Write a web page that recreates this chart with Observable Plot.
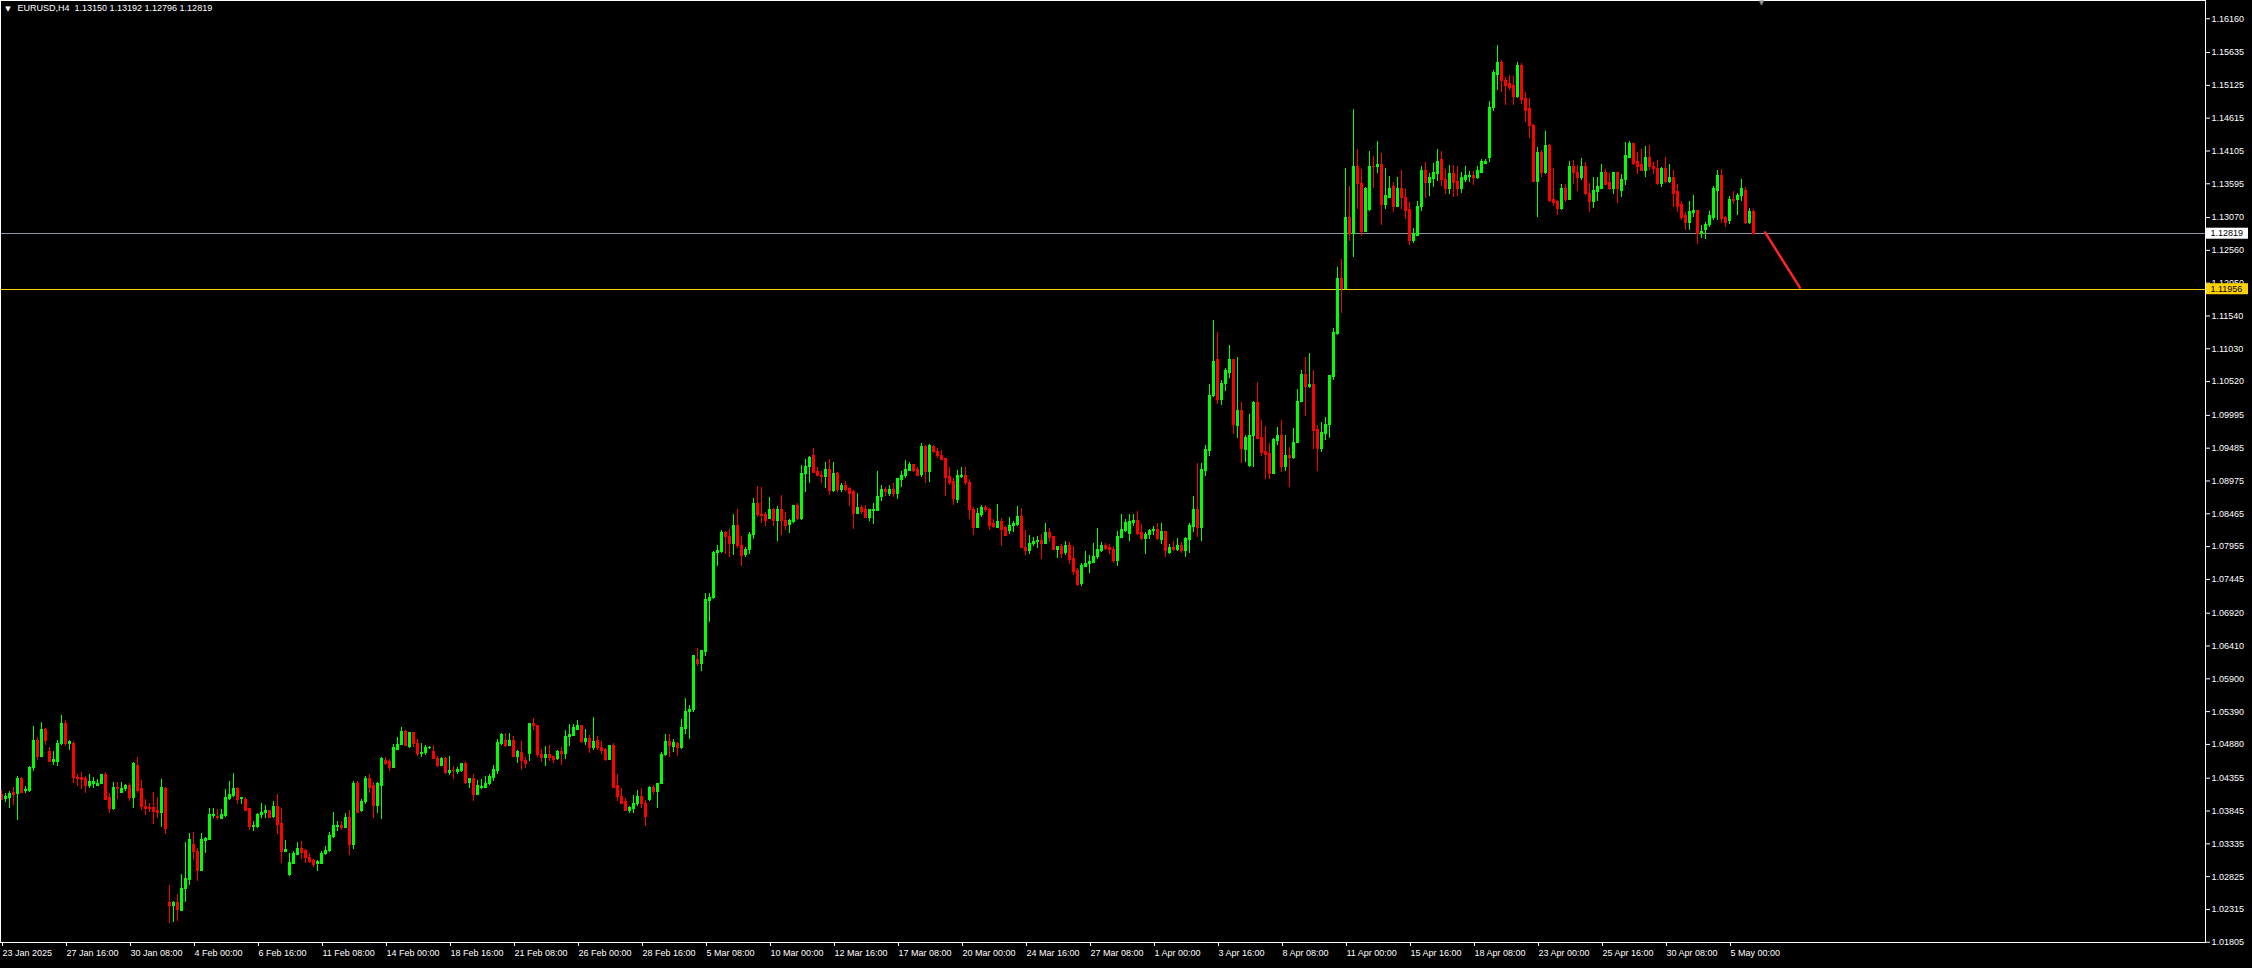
<!DOCTYPE html>
<html><head><meta charset="utf-8">
<script src="https://cdn.jsdelivr.net/npm/d3@7"></script>
<script src="https://cdn.jsdelivr.net/npm/@observablehq/plot@0.6"></script>
<style>
html,body{margin:0;padding:0;background:#000;overflow:hidden}
#chart svg{display:block}
</style></head><body><div id="chart"></div>
<script>
const symbol = "EURUSD";
const timeframe = "H4";

const opens = [
1.0410,1.0403,1.0405,1.0412,1.0411,1.0435,1.0415,1.0415,1.0451,1.0494,
1.0468,1.0511,1.0477,1.0461,1.0461,1.0488,1.0520,1.0488,1.0489,1.0436,
1.0436,1.0435,1.0424,1.0427,1.0423,1.0427,1.0441,1.0404,1.0387,1.0421,
1.0412,1.0418,1.0423,1.0405,1.0455,1.0418,1.0391,1.0389,1.0389,1.0384,
1.0381,1.0419,1.0241,1.0237,1.0241,1.0229,1.0263,1.0278,1.0331,1.0321,
1.0292,1.0338,1.0339,1.0376,1.0375,1.0372,1.0376,1.0403,1.0408,1.0419,
1.0403,1.0402,1.0387,1.0359,1.0359,1.0378,1.0382,1.0384,1.0375,1.0391,
1.0364,1.0321,1.0285,1.0302,1.0316,1.0326,1.0322,1.0312,1.0307,1.0302,
1.0302,1.0317,1.0322,1.0344,1.0359,1.0361,1.0358,1.0374,1.0331,1.0426,
1.0384,1.0398,1.0435,1.0423,1.0392,1.0424,1.0463,1.0460,1.0451,1.0480,
1.0487,1.0508,1.0484,1.0505,1.0489,1.0473,1.0474,1.0482,1.0476,1.0466,
1.0454,1.0465,1.0443,1.0447,1.0445,1.0446,1.0457,1.0428,1.0435,1.0409,
1.0420,1.0420,1.0426,1.0436,1.0447,1.0489,1.0494,1.0485,1.0493,1.0468,
1.0475,1.0463,1.0473,1.0520,1.0517,1.0472,1.0467,1.0472,1.0468,1.0465,
1.0477,1.0473,1.0500,1.0501,1.0510,1.0516,1.0492,1.0497,1.0483,1.0493,
1.0482,1.0479,1.0464,1.0485,1.0423,1.0407,1.0398,1.0384,1.0388,1.0395,
1.0407,1.0396,1.0401,1.0420,1.0414,1.0426,1.0471,1.0491,1.0484,1.0489,
1.0482,1.0512,1.0538,1.0541,1.0620,1.0613,1.0632,1.0711,1.0715,1.0785,
1.0787,1.0816,1.0811,1.0799,1.0827,1.0797,1.0782,1.0790,1.0813,1.0861,
1.0845,1.0844,1.0839,1.0853,1.0835,1.0852,1.0836,1.0829,1.0834,1.0858,
1.0838,1.0908,1.0919,1.0936,1.0912,1.0906,1.0903,1.0914,1.0882,1.0908,
1.0884,1.0889,1.0885,1.0880,1.0846,1.0855,1.0852,1.0840,1.0851,1.0851,
1.0872,1.0883,1.0877,1.0883,1.0877,1.0899,1.0905,1.0913,1.0922,1.0914,
1.0907,1.0950,1.0911,1.0951,1.0943,1.0937,1.0931,1.0903,1.0896,1.0868,
1.0903,1.0906,1.0895,1.0853,1.0824,1.0845,1.0855,1.0853,1.0830,1.0825,
1.0833,1.0824,1.0820,1.0827,1.0829,1.0841,1.0794,1.0788,1.0800,1.0802,
1.0804,1.0799,1.0817,1.0810,1.0790,1.0795,1.0785,1.0796,1.0776,1.0757,
1.0737,1.0764,1.0768,1.0770,1.0779,1.0788,1.0796,1.0794,1.0791,1.0773,
1.0809,1.0819,1.0815,1.0832,1.0835,1.0816,1.0807,1.0813,1.0819,1.0821,
1.0805,1.0818,1.0786,1.0794,1.0791,1.0796,1.0788,1.0806,1.0826,1.0852,
1.0825,1.0913,1.0944,1.1029,1.1085,1.1023,1.1049,1.1066,1.1085,1.0983,
1.1006,1.0945,1.0921,1.0967,1.1018,1.0964,1.0942,1.0939,1.0909,1.0960,
1.0968,1.0919,1.0936,1.0933,1.0956,1.1020,1.1063,1.1043,1.1047,1.0977,
1.0947,1.0970,1.0984,1.1059,1.1126,1.1211,1.1196,1.1306,1.1282,1.1386,
1.1359,1.1284,1.1318,1.1386,1.1385,1.1388,1.1326,1.1338,1.1355,1.1323,
1.1352,1.1338,1.1318,1.1271,1.1279,1.1323,1.1380,1.1360,1.1367,1.1374,
1.1396,1.1366,1.1351,1.1374,1.1362,1.1351,1.1366,1.1370,1.1371,1.1368,
1.1377,1.1391,1.1400,1.1477,1.1529,1.1548,1.1520,1.1514,1.1512,1.1494,
1.1543,1.1491,1.1475,1.1450,1.1362,1.1408,1.1376,1.1419,1.1334,1.1331,
1.1320,1.1351,1.1335,1.1385,1.1377,1.1368,1.1385,1.1344,1.1331,1.1346,
1.1352,1.1377,1.1361,1.1351,1.1376,1.1349,1.1365,1.1400,1.1421,1.1393,
1.1388,1.1380,1.1400,1.1386,1.1383,1.1359,1.1383,1.1362,1.1369,1.1346,
1.1327,1.1309,1.1299,1.1314,1.1317,1.1282,1.1287,1.1295,1.1307,1.1349,
1.1372,1.1306,1.1301,1.1335,1.1334,1.1340,1.1348,1.1299,1.13150];

const highs = [
1.0416,1.0412,1.0415,1.0421,1.0438,1.0437,1.0423,1.0454,1.0516,1.0498,
1.0522,1.0512,1.0483,1.0477,1.0494,1.0533,1.0525,1.0494,1.0493,1.0441,
1.0444,1.0438,1.0441,1.0437,1.0433,1.0442,1.0444,1.0412,1.0429,1.0429,
1.0429,1.0426,1.0428,1.0460,1.0467,1.0432,1.0402,1.0396,1.0413,1.0405,
1.0434,1.0421,1.0269,1.0244,1.0255,1.0286,1.0336,1.0350,1.0351,1.0326,
1.0350,1.0343,1.0388,1.0388,1.0387,1.0387,1.0418,1.0431,1.0443,1.0421,
1.0406,1.0406,1.0388,1.0368,1.0381,1.0396,1.0393,1.0385,1.0399,1.0410,
1.0388,1.0339,1.0319,1.0322,1.0336,1.0337,1.0325,1.0318,1.0309,1.0307,
1.0322,1.0330,1.0351,1.0382,1.0368,1.0368,1.0381,1.0385,1.0430,1.0430,
1.0402,1.0438,1.0442,1.0429,1.0429,1.0467,1.0467,1.0465,1.0488,1.0499,
1.0514,1.0509,1.0507,1.0507,1.0495,1.0489,1.0486,1.0485,1.0486,1.0470,
1.0468,1.0467,1.0469,1.0454,1.0452,1.0459,1.0461,1.0435,1.0441,1.0432,
1.0434,1.0438,1.0441,1.0455,1.0496,1.0505,1.0505,1.0505,1.0500,1.0479,
1.0493,1.0468,1.0521,1.0528,1.0518,1.0480,1.0485,1.0486,1.0470,1.0479,
1.0483,1.0509,1.0519,1.0519,1.0525,1.0518,1.0511,1.0502,1.0530,1.0500,
1.0492,1.0481,1.0486,1.0489,1.0441,1.0419,1.0404,1.0392,1.0409,1.0416,
1.0419,1.0401,1.0423,1.0424,1.0428,1.0476,1.0504,1.0504,1.0496,1.0491,
1.0527,1.0559,1.0548,1.0627,1.0637,1.0633,1.0723,1.0723,1.0788,1.0797,
1.0820,1.0819,1.0822,1.0845,1.0853,1.0811,1.0794,1.0817,1.0871,1.0889,
1.0887,1.0848,1.0872,1.0855,1.0858,1.0875,1.0848,1.0838,1.0859,1.0863,
1.0922,1.0931,1.0936,1.0948,1.0919,1.0913,1.0926,1.0931,1.0927,1.0911,
1.0894,1.0897,1.0887,1.0883,1.0878,1.0859,1.0859,1.0853,1.0863,1.0912,
1.0891,1.0888,1.0891,1.0894,1.0901,1.0912,1.0929,1.0927,1.0923,1.0918,
1.0956,1.0953,1.0954,1.0952,1.0948,1.0945,1.0932,1.0919,1.0902,1.0914,
1.0918,1.0918,1.0900,1.0857,1.0854,1.0860,1.0859,1.0854,1.0837,1.0861,
1.0839,1.0827,1.0841,1.0834,1.0858,1.0855,1.0821,1.0813,1.0809,1.0811,
1.0814,1.0831,1.0823,1.0811,1.0796,1.0798,1.0803,1.0802,1.0796,1.0762,
1.0770,1.0788,1.0782,1.0800,1.0823,1.0802,1.0801,1.0798,1.0795,1.0819,
1.0846,1.0838,1.0846,1.0845,1.0850,1.0830,1.0818,1.0822,1.0827,1.0831,
1.0831,1.0819,1.0798,1.0803,1.0808,1.0802,1.0809,1.0831,1.0874,1.0925,
1.0924,1.0952,1.1048,1.1147,1.1128,1.1054,1.1073,1.1108,1.1086,1.1090,
1.1020,1.0968,1.1001,1.1021,1.1051,1.0992,1.0982,1.0955,1.0963,1.0981,
1.0992,1.0968,1.0949,1.0979,1.1040,1.1070,1.1090,1.1096,1.1069,1.0983,
1.0989,1.0996,1.1061,1.1135,1.1229,1.1242,1.1384,1.1355,1.1475,1.1413,
1.1382,1.1354,1.1410,1.1402,1.1425,1.1407,1.1383,1.1371,1.1362,1.1369,
1.1380,1.1351,1.1331,1.1290,1.1332,1.1386,1.1393,1.1376,1.1391,1.1413,
1.1410,1.1382,1.1388,1.1388,1.1386,1.1377,1.1386,1.1379,1.1379,1.1386,
1.1397,1.1397,1.1487,1.1536,1.1574,1.1551,1.1525,1.1528,1.1526,1.1548,
1.1546,1.1501,1.1492,1.1451,1.1416,1.1411,1.1441,1.1421,1.1383,1.1334,
1.1359,1.1359,1.1394,1.1396,1.1388,1.1399,1.1393,1.1360,1.1369,1.1369,
1.1390,1.1382,1.1376,1.1377,1.1377,1.1374,1.1424,1.1425,1.1422,1.1408,
1.1413,1.1417,1.1419,1.1393,1.1396,1.1385,1.1400,1.1390,1.1380,1.1358,
1.1332,1.1315,1.1332,1.1341,1.1318,1.1295,1.1299,1.1317,1.1355,1.1380,
1.1382,1.1309,1.1340,1.1348,1.1344,1.1366,1.1354,1.1321,1.13192];

const lows = [
1.0401,1.0397,1.0389,1.0393,1.0370,1.0412,1.0411,1.0414,1.0446,1.0463,
1.0467,1.0487,1.0460,1.0456,1.0453,1.0487,1.0484,1.0479,1.0427,1.0423,
1.0418,1.0412,1.0420,1.0419,1.0422,1.0426,1.0401,1.0381,1.0386,1.0402,
1.0411,1.0415,1.0399,1.0388,1.0412,1.0386,1.0377,1.0382,1.0364,1.0373,
1.0359,1.0348,1.0209,1.0211,1.0212,1.0228,1.0243,1.0269,1.0308,1.0275,
1.0290,1.0318,1.0338,1.0373,1.0369,1.0371,1.0374,1.0401,1.0406,1.0395,
1.0394,1.0384,1.0354,1.0352,1.0358,1.0373,1.0373,1.0373,1.0373,1.0348,
1.0303,1.0320,1.0282,1.0301,1.0315,1.0309,1.0303,1.0303,1.0296,1.0290,
1.0301,1.0315,1.0320,1.0342,1.0353,1.0354,1.0357,1.0315,1.0325,1.0380,
1.0382,1.0395,1.0411,1.0373,1.0381,1.0372,1.0456,1.0446,1.0450,1.0479,
1.0486,1.0485,1.0482,1.0483,1.0470,1.0467,1.0471,1.0480,1.0464,1.0452,
1.0453,1.0442,1.0439,1.0434,1.0441,1.0444,1.0426,1.0419,1.0400,1.0408,
1.0418,1.0419,1.0424,1.0431,1.0442,1.0486,1.0483,1.0484,1.0467,1.0459,
1.0448,1.0450,1.0461,1.0509,1.0468,1.0460,1.0453,1.0461,1.0459,1.0463,
1.0456,1.0465,1.0484,1.0500,1.0509,1.0490,1.0486,1.0474,1.0479,1.0478,
1.0472,1.0462,1.0463,1.0419,1.0399,1.0395,1.0383,1.0380,1.0381,1.0392,
1.0389,1.0360,1.0399,1.0409,1.0388,1.0425,1.0470,1.0467,1.0476,1.0470,
1.0480,1.0503,1.0496,1.0537,1.0609,1.0602,1.0624,1.0677,1.0713,1.0764,
1.0785,1.0784,1.0779,1.0782,1.0792,1.0765,1.0779,1.0784,1.0807,1.0841,
1.0832,1.0826,1.0837,1.0827,1.0804,1.0812,1.0820,1.0816,1.0832,1.0836,
1.0836,1.0880,1.0894,1.0909,1.0905,1.0894,1.0886,1.0875,1.0880,1.0879,
1.0880,1.0881,1.0858,1.0822,1.0845,1.0845,1.0839,1.0834,1.0830,1.0850,
1.0865,1.0873,1.0873,1.0872,1.0868,1.0887,1.0902,1.0912,1.0911,1.0905,
1.0903,1.0893,1.0895,1.0941,1.0932,1.0929,1.0873,1.0891,1.0860,1.0863,
1.0902,1.0890,1.0838,1.0813,1.0823,1.0841,1.0848,1.0820,1.0823,1.0824,
1.0796,1.0811,1.0814,1.0817,1.0827,1.0792,1.0781,1.0784,1.0796,1.0793,
1.0776,1.0798,1.0802,1.0789,1.0777,1.0777,1.0781,1.0767,1.0751,1.0734,
1.0733,1.0763,1.0753,1.0769,1.0776,1.0786,1.0790,1.0783,1.0769,1.0764,
1.0808,1.0818,1.0804,1.0827,1.0812,1.0805,1.0784,1.0807,1.0813,1.0805,
1.0798,1.0778,1.0783,1.0788,1.0788,1.0785,1.0779,1.0785,1.0818,1.0809,
1.0804,1.0905,1.0935,1.1028,1.1017,1.1015,1.1036,1.1057,1.0970,1.0964,
1.0924,1.0926,1.0918,1.0919,1.0962,1.0936,1.0900,1.0900,1.0908,1.0953,
1.0911,1.0913,1.0888,1.0931,1.0955,1.1019,1.0997,1.1041,1.0946,1.0913,
1.0942,1.0961,1.0963,1.1054,1.1123,1.1158,1.1193,1.1270,1.1245,1.1320,
1.1277,1.1283,1.1317,1.1352,1.1375,1.1295,1.1320,1.1337,1.1315,1.1322,
1.1320,1.1304,1.1264,1.1266,1.1278,1.1316,1.1337,1.1340,1.1354,1.1363,
1.1355,1.1343,1.1343,1.1338,1.1340,1.1344,1.1362,1.1362,1.1357,1.1366,
1.1376,1.1390,1.1393,1.1472,1.1505,1.1501,1.1481,1.1505,1.1481,1.1492,
1.1483,1.1455,1.1430,1.1361,1.1307,1.1369,1.1374,1.1331,1.1324,1.1310,
1.1318,1.1330,1.1334,1.1359,1.1348,1.1365,1.1341,1.1315,1.1321,1.1332,
1.1351,1.1357,1.1349,1.1343,1.1329,1.1338,1.1357,1.1399,1.1388,1.1374,
1.1379,1.1369,1.1380,1.1374,1.1357,1.1354,1.1360,1.1360,1.1323,1.1315,
1.1303,1.1287,1.1287,1.1307,1.1265,1.1274,1.1273,1.1292,1.1303,1.1303,
1.1298,1.1292,1.1296,1.1327,1.1310,1.1332,1.1296,1.1296,1.12796];

const closes = [
1.0402,1.0406,1.0411,1.0409,1.0435,1.0413,1.0417,1.0452,1.0494,1.0468,
1.0511,1.0494,1.0461,1.0464,1.0489,1.0520,1.0488,1.0492,1.0436,1.0435,
1.0433,1.0424,1.0429,1.0430,1.0427,1.0441,1.0402,1.0387,1.0421,1.0418,
1.0419,1.0423,1.0405,1.0457,1.0415,1.0390,1.0387,1.0388,1.0383,1.0381,
1.0421,1.0356,1.0237,1.0241,1.0230,1.0264,1.0279,1.0340,1.0321,1.0292,
1.0339,1.0341,1.0378,1.0379,1.0374,1.0378,1.0404,1.0409,1.0419,1.0401,
1.0404,1.0385,1.0359,1.0361,1.0379,1.0382,1.0384,1.0374,1.0391,1.0362,
1.0321,1.0324,1.0303,1.0317,1.0325,1.0320,1.0312,1.0305,1.0300,1.0305,
1.0318,1.0323,1.0345,1.0361,1.0361,1.0358,1.0374,1.0331,1.0426,1.0381,
1.0399,1.0435,1.0421,1.0392,1.0426,1.0466,1.0458,1.0452,1.0482,1.0487,
1.0508,1.0486,1.0505,1.0489,1.0473,1.0475,1.0483,1.0483,1.0465,1.0454,
1.0465,1.0443,1.0446,1.0446,1.0448,1.0457,1.0428,1.0434,1.0409,1.0423,
1.0422,1.0427,1.0437,1.0448,1.0490,1.0502,1.0485,1.0493,1.0468,1.0476,
1.0463,1.0457,1.0520,1.0517,1.0471,1.0467,1.0472,1.0467,1.0464,1.0477,
1.0473,1.0500,1.0503,1.0514,1.0516,1.0492,1.0497,1.0483,1.0492,1.0483,
1.0478,1.0464,1.0485,1.0421,1.0406,1.0396,1.0384,1.0389,1.0396,1.0407,
1.0395,1.0375,1.0420,1.0414,1.0427,1.0472,1.0491,1.0485,1.0490,1.0482,
1.0513,1.0539,1.0542,1.0626,1.0613,1.0633,1.0712,1.0716,1.0786,1.0788,
1.0816,1.0810,1.0799,1.0827,1.0796,1.0781,1.0791,1.0814,1.0861,1.0844,
1.0843,1.0835,1.0853,1.0835,1.0852,1.0835,1.0828,1.0835,1.0858,1.0838,
1.0909,1.0920,1.0934,1.0910,1.0906,1.0903,1.0915,1.0882,1.0908,1.0884,
1.0889,1.0884,1.0878,1.0846,1.0855,1.0850,1.0840,1.0852,1.0853,1.0873,
1.0883,1.0881,1.0883,1.0877,1.0900,1.0906,1.0914,1.0922,1.0913,1.0906,
1.0950,1.0911,1.0952,1.0942,1.0936,1.0930,1.0902,1.0894,1.0869,1.0905,
1.0906,1.0894,1.0852,1.0824,1.0846,1.0855,1.0852,1.0827,1.0826,1.0833,
1.0822,1.0812,1.0827,1.0831,1.0841,1.0793,1.0788,1.0800,1.0803,1.0804,
1.0799,1.0817,1.0809,1.0790,1.0795,1.0784,1.0796,1.0775,1.0756,1.0736,
1.0766,1.0769,1.0771,1.0780,1.0790,1.0797,1.0792,1.0790,1.0773,1.0811,
1.0821,1.0832,1.0833,1.0835,1.0815,1.0807,1.0814,1.0819,1.0821,1.0807,
1.0818,1.0788,1.0793,1.0791,1.0796,1.0788,1.0807,1.0827,1.0852,1.0825,
1.0914,1.0945,1.1030,1.1082,1.1023,1.1049,1.1068,1.1085,1.0984,1.1007,
1.0947,1.0964,1.0968,1.1018,1.0963,1.0941,1.0938,1.0909,1.0961,1.0968,
1.0919,1.0936,1.0933,1.0956,1.1021,1.1062,1.1043,1.1047,1.0975,1.0947,
1.0972,1.0985,1.1060,1.1127,1.1211,1.1196,1.1306,1.1282,1.1386,1.1359,
1.1284,1.1352,1.1386,1.1385,1.1388,1.1326,1.1340,1.1352,1.1323,1.1352,
1.1338,1.1317,1.1271,1.1282,1.1324,1.1380,1.1360,1.1368,1.1376,1.1394,
1.1365,1.1352,1.1374,1.1360,1.1351,1.1368,1.1371,1.1371,1.1368,1.1379,
1.1393,1.1393,1.1478,1.1531,1.1548,1.1519,1.1512,1.1508,1.1494,1.1543,
1.1489,1.1473,1.1449,1.1362,1.1408,1.1376,1.1419,1.1332,1.1329,1.1320,
1.1351,1.1335,1.1385,1.1376,1.1368,1.1385,1.1343,1.1331,1.1348,1.1354,
1.1377,1.1358,1.1351,1.1376,1.1351,1.1366,1.1402,1.1421,1.1391,1.1386,
1.1380,1.1399,1.1386,1.1382,1.1359,1.1383,1.1362,1.1369,1.1344,1.1324,
1.1307,1.1299,1.1315,1.1317,1.1282,1.1285,1.1296,1.1309,1.1351,1.1372,
1.1304,1.1298,1.1335,1.1332,1.1341,1.1352,1.1299,1.1315,1.12819];

const xTickIndex = [0,16,32,48,64,80,96,112,128,144,160,176,192,208,224,240,256,272,288,304,320,336,352,368,384,400,416,432];
const xTickLabels = ["23 Jan 2025","27 Jan 16:00","30 Jan 08:00","4 Feb 00:00","6 Feb 16:00","11 Feb 08:00","14 Feb 00:00","18 Feb 16:00","21 Feb 08:00","26 Feb 00:00","28 Feb 16:00","5 Mar 08:00","10 Mar 00:00","12 Mar 16:00","17 Mar 08:00","20 Mar 00:00","24 Mar 16:00","27 Mar 08:00","1 Apr 00:00","3 Apr 16:00","8 Apr 08:00","11 Apr 00:00","15 Apr 16:00","18 Apr 08:00","23 Apr 00:00","25 Apr 16:00","30 Apr 08:00","5 May 00:00"];
const yTickValues = [1.16160,1.15635,1.15125,1.14615,1.14105,1.13595,1.13070,1.12560,1.12050,1.11540,1.11030,1.10520,1.09995,1.09485,1.08975,1.08465,1.07955,1.07445,1.06920,1.06410,1.05900,1.05390,1.04880,1.04355,1.03845,1.03335,1.02825,1.02315,1.01805];

const levelPrice = 1.11956;
const arrowIndex = [440.9, 449.6];
const arrowPrice = [1.1284, 1.1198];
const shiftMarkIndex = 440;

const upColor = "#00ff00", downColor = "#ff0000";
const bidColor = "#8c96a2", levelColor = "#ffd200", arrowColor = "#ff2424";
const W = 2252, H = 968, mR = 47, mB = 26;
const font = "'Liberation Sans', Arial, sans-serif";

const candles = closes.map((c, i) => ({i, open: opens[i], high: highs[i], low: lows[i], close: c, up: c >= opens[i]}));
const last = candles[candles.length - 1];
const arrowPts = arrowIndex.map((v, k) => ({i: v, price: arrowPrice[k]}));
const labelMap = new Map(xTickIndex.map((v, k) => [v, xTickLabels[k]]));
const titleText = `${symbol},${timeframe}\u00a0\u00a0${last.open.toFixed(5)} ${last.high.toFixed(5)} ${last.low.toFixed(5)} ${last.close.toFixed(5)}`;

const body = (up) => Plot.rect(candles, {
  filter: d => d.up === up, x1: d => d.i - 0.375, x2: d => d.i + 0.375,
  y1: "open", y2: "close", fill: up ? upColor : downColor, insetTop: -0.5, insetBottom: -0.5,
  shapeRendering: "crispEdges"
});
const wick = (up) => Plot.ruleX(candles, {
  filter: d => d.up === up, x: "i", y1: "low", y2: "high", stroke: up ? upColor : downColor,
  shapeRendering: "crispEdges"
});

const chart = Plot.plot({
  width: W, height: H,
  marginLeft: 0, marginRight: mR, marginTop: 0, marginBottom: mB,
  style: {background: "#000", color: "#fff", fontFamily: font, fontSize: "9px"},
  x: {type: "linear", domain: [-0.25, 551], axis: null, label: null},
  y: {type: "linear", domain: [1.01801, 1.16444], axis: null, label: null},
  marks: [
    Plot.ruleY([levelPrice], {stroke: levelColor, shapeRendering: "crispEdges"}),
    Plot.ruleY([last.close], {stroke: bidColor, shapeRendering: "crispEdges"}),
    wick(true), wick(false), body(true), body(false),
    Plot.line(arrowPts, {x: "i", y: "price", stroke: arrowColor, strokeWidth: 2.5}),
    Plot.frame({stroke: "#fff", shapeRendering: "crispEdges"}),
    Plot.axisY(yTickValues, {anchor: "right", label: null, tickSize: 4, tickPadding: 2, tickFormat: d => d.toFixed(5), fontSize: 9, fill: "#fff", stroke: "#fff"}),
    Plot.axisX(xTickIndex, {anchor: "bottom", label: null, tickSize: 4, tickPadding: 3, tickFormat: d => labelMap.get(d), textAnchor: "start", dx: 1, fontSize: 9, fill: "#fff", stroke: "#fff"}),
    Plot.text([titleText], {frameAnchor: "top-left", dx: 17, dy: 8, textAnchor: "start", lineAnchor: "middle", fill: "#fff", fontSize: 9}),
    Plot.text(["\u25BC"], {frameAnchor: "top-left", dx: 7.5, dy: 8.5, textAnchor: "middle", lineAnchor: "middle", fill: "#fff", fontSize: 7, fontFamily: "DejaVu Sans"}),
    Plot.text([shiftMarkIndex], {x: d => d, text: () => "\u25BC", frameAnchor: "top", dy: 2.5, lineAnchor: "middle", fill: "#8c8c8c", fontSize: 7, fontFamily: "DejaVu Sans"})
  ]
});
document.getElementById("chart").appendChild(chart);

// price tags on the right scale
const yS = chart.scale("y");
const svg = d3.select(chart);
[{v: last.close, bg: "#ffffff"}, {v: levelPrice, bg: levelColor}].forEach(t => {
  const yy = yS.apply(t.v);
  const g = svg.append("g").attr("text-anchor", "start");
  g.append("rect").attr("x", W - mR + 1).attr("y", yy - 5.5).attr("width", 42).attr("height", 11).attr("fill", t.bg);
  g.append("text").attr("x", W - mR + 5.5).attr("y", yy).attr("dy", "0.34em").attr("text-anchor", "start")
    .attr("fill", "#000").attr("font-size", 9).attr("font-family", font).text(t.v.toFixed(5));
});
</script></body></html>
